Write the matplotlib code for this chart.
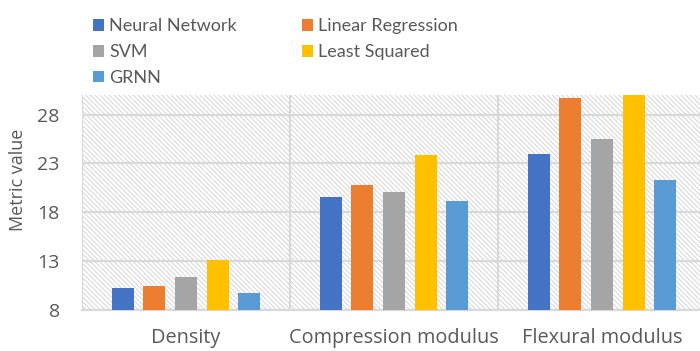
import numpy as np
import matplotlib
matplotlib.use('Agg')
import matplotlib.pyplot as plt
from matplotlib.patches import Patch, Rectangle

plt.rcParams['font.family'] = ['Open Sans', 'DejaVu Sans']
plt.rcParams['hatch.linewidth'] = 0.7

categories = ['Density', 'Compression modulus', 'Flexural modulus']
neural_network = [10.28, 19.52, 23.95]
linear_regression = [10.45, 20.75, 29.7]
svm = [11.37, 20.1, 25.45]
least_squared = [13.08, 23.85, 30.5]
grnn = [9.77, 19.18, 21.3]
yticks = [8, 13, 18, 23, 28]

series = [
    ('Neural Network', neural_network, '#4472C4'),
    ('Linear Regression', linear_regression, '#ED7D31'),
    ('SVM', svm, '#A5A5A5'),
    ('Least Squared', least_squared, '#FFC000'),
    ('GRNN', grnn, '#5B9BD5'),
]

text_color = '#595959'
grid_color = '#d9d9d9'

fig = plt.figure(figsize=(7, 3.51), dpi=100)
# axes run a little past the right edge of the figure
ax = fig.add_axes([82 / 700, 41 / 351, 624 / 700, 215 / 351])

# hatched plot area
bg = Rectangle((0, 0), 1, 1, transform=ax.transAxes, facecolor='white',
               edgecolor='#d6d6d6', hatch='\\' * 7, linewidth=0, zorder=0)
ax.add_patch(bg)

x = np.arange(len(categories))
step = 0.1525
width = 0.106
for i, (name, vals, color) in enumerate(series):
    ax.bar(x + (i - 2) * step, vals, width, color=color, label=name, zorder=3)

ax.set_xlim(-0.5, len(categories) - 0.5)
ax.set_ylim(8, 30)
ax.set_yticks(yticks)
ax.set_xticks(x)
ax.set_xticklabels(categories)
ax.set_xticks(np.arange(-0.5, len(categories), 1), minor=True)

ax.grid(axis='y', which='major', color=grid_color, lw=1.6, zorder=1)
ax.grid(axis='x', which='minor', color=grid_color, lw=1.6, zorder=1)
ax.grid(axis='x', which='major', visible=False)
ax.set_axisbelow(True)

for s in ['top', 'right', 'left']:
    ax.spines[s].set_visible(False)
ax.spines['bottom'].set_color(grid_color)
ax.spines['bottom'].set_linewidth(1.6)

ax.tick_params(axis='both', which='both', length=0)
ax.tick_params(axis='y', labelsize=14, labelcolor=text_color, pad=16)
ax.tick_params(axis='x', labelsize=14.3, labelcolor=text_color, pad=13)

fig.text(18 / 700, 1 - 180 / 351, 'Metric value', rotation=90, fontsize=13,
         color=text_color, ha='center', va='center')

# legend fills column by column, so reorder for row layout
handles = [Patch(facecolor=c) for _, _, c in series]
labels = [n for n, _, _ in series]
order = [0, 2, 4, 1, 3]
fig.legend([handles[i] for i in order], [labels[i] for i in order],
           ncol=2, loc='upper left', bbox_to_anchor=(86 / 700, 1 - 11 / 351),
           frameon=False, prop={'family': ['Lato', 'DejaVu Sans'], 'size': 13},
           labelcolor=text_color,
           handlelength=0.6, handleheight=0.6, handletextpad=0.3,
           labelspacing=0.55, columnspacing=3.6, borderaxespad=0)

fig.savefig('out.png', dpi=100)
